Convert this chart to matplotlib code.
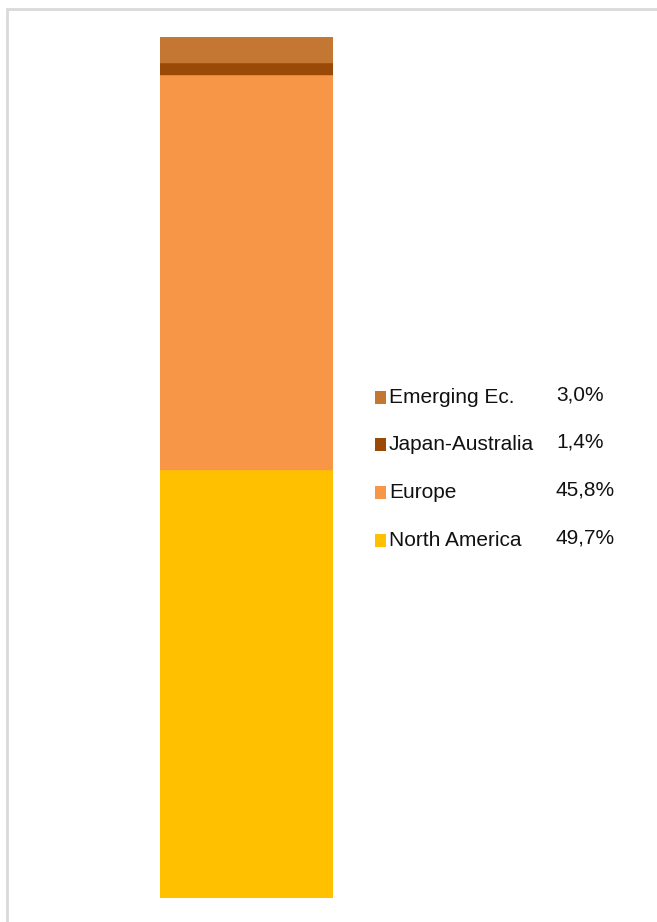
import matplotlib.pyplot as plt
from matplotlib.patches import Rectangle

# Data (bottom to top)
regions = ["North America", "Europe", "Japan-Australia", "Emerging Ec."]
shares = [49.7, 45.8, 1.4, 3.0]
colors = ["#FFC000", "#F79646", "#9A4A06", "#C47733"]

W, H = 657, 922
fig = plt.figure(figsize=(W / 100, H / 100), dpi=100)
fig.patch.set_facecolor("white")

# light grey frame (open at right / bottom like the source crop)
fig.add_artist(Rectangle((7 / W, -0.1), 1.2, 1 - 9 / H + 0.1,
                         transform=fig.transFigure, fill=False,
                         edgecolor="#d9d9d9", linewidth=2))

ax = fig.add_axes([160 / W, 1 - 898 / H, 173 / W, (898 - 37) / H])
bottom = 0
for val, col in zip(shares, colors):
    ax.bar(0, val, width=1, bottom=bottom, color=col,
           edgecolor=col, linewidth=0.3)
    bottom += val
ax.set_xlim(-0.5, 0.5)
ax.set_ylim(0, sum(shares))
ax.axis("off")

font = ["Liberation Sans", "DejaVu Sans"]
row_y = [540, 492, 444, 397]
for name, val, col, y in zip(regions, shares, colors, row_y):
    fig.add_artist(Rectangle((375 / W, 1 - (y + 7) / H), 11 / W, 13 / H,
                             transform=fig.transFigure, facecolor=col,
                             edgecolor="none"))
    fig.text(389 / W, 1 - y / H, name, family=font, fontsize=15,
             va="center", ha="left", color="#111111")
    fig.text(556 / W, 1 - (y - 2) / H, f"{val:.1f}%".replace(".", ","),
             family=font, fontsize=15, va="center", ha="left",
             color="#111111")

fig.savefig("out.png", dpi=100)
